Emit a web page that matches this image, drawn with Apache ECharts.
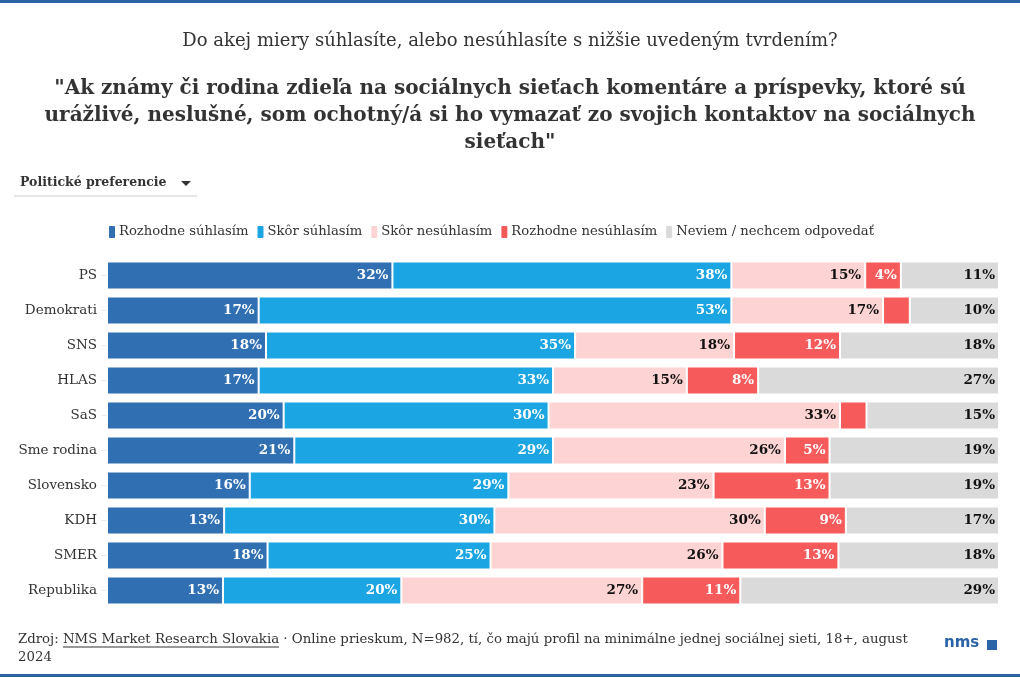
<!DOCTYPE html>
<html><head><meta charset="utf-8">
<script src="https://cdn.jsdelivr.net/npm/echarts@6/dist/echarts.min.js"></script>
<style>html,body{margin:0;padding:0;background:#fff}#c{width:1020px;height:677px}</style>
</head><body><div id="c"></div>
<script>
var categories = ['PS','Demokrati','SNS','HLAS','SaS','Sme rodina','Slovensko','KDH','SMER','Republika'];
var seriesNames = ['Rozhodne súhlasím','Skôr súhlasím','Skôr nesúhlasím','Rozhodne nesúhlasím','Neviem / nechcem odpovedať'];
var rozhodneSuhlasim   = [32,17,18,17,20,21,16,13,18,13];
var skorSuhlasim       = [38,53,35,33,30,29,29,30,25,20];
var skorNesuhlasim     = [15,17,18,15,33,26,23,30,26,27];
var rozhodneNesuhlasim = [4,3,12,8,3,5,13,9,13,11];
var neviem             = [11,10,18,27,15,19,19,17,18,29];

var allSeries = [rozhodneSuhlasim, skorSuhlasim, skorNesuhlasim, rozhodneNesuhlasim, neviem];
var colors = ['#2f6fb2','#1ba5e2','#fdd3d3','#f65a5a','#dadada'];
var labelColors = ['#fff','#fff','#111','#fff','#111'];
var FONT = 'DejaVu Serif';

var totals = categories.map(function(_, i){
  return allSeries.reduce(function(s, arr){ return s + arr[i]; }, 0);
});

var series = allSeries.map(function(arr, si){
  return {
    name: seriesNames[si], type: 'bar', stack: 'all', barCategoryGap: '20%',
    itemStyle: { color: colors[si], borderColor: '#fff', borderWidth: 1 },
    label: {
      show: true, position: 'insideRight', fontFamily: FONT, fontWeight: 'bold',
      fontSize: 13.5, color: labelColors[si], distance: 4,
      formatter: function(p){ return p.data.raw >= 4 ? p.data.raw + '%' : ''; }
    },
    emphasis: { disabled: true },
    data: arr.map(function(v, i){ return { value: v / totals[i] * 100, raw: v }; })
  };
});

var cvs = document.createElement('canvas').getContext('2d');
cvs.font = '13.3px ' + FONT;
var wZ = cvs.measureText('Zdroj: ').width;
var wN = cvs.measureText('NMS Market Research Slovakia').width;

var chart = echarts.init(document.getElementById('c'));
chart.setOption({
  animation: false,
  textStyle: { fontFamily: FONT },
  legend: {
    data: seriesNames, left: 102, top: 219, icon: 'roundRect', itemWidth: 8, itemHeight: 14, itemGap: 7,
    textStyle: { fontFamily: FONT, fontSize: 13.2, color: '#333', padding: [0,0,0,-2] },
    selectedMode: false
  },
  grid: { left: 107, right: 21, top: 258, height: 350, containLabel: false },
  xAxis: { type: 'value', min: 0, max: 100, show: false },
  yAxis: {
    type: 'category', data: categories, inverse: true,
    axisLine: { show: false },
    axisTick: { show: true, length: 6, lineStyle: { color: '#eee' }, alignWithLabel: true },
    axisLabel: { fontFamily: FONT, fontSize: 13.5, color: '#333', margin: 10 }
  },
  series: series,
  graphic: [
    { type: 'rect', shape: { x: 0, y: 0, width: 1020, height: 3 }, style: { fill: '#2a63a6' } },
    { type: 'rect', shape: { x: 0, y: 674, width: 1020, height: 3 }, style: { fill: '#2a63a6' } },
    { type: 'text', x: 510, y: 32, style: { text: 'Do akej miery súhlasíte, alebo nesúhlasíte s nižšie uvedeným tvrdením?', font: '18px ' + FONT, fill: '#333', align: 'center' } },
    { type: 'text', x: 510, y: 75, style: { text: '"Ak známy či rodina zdieľa na sociálnych sieťach komentáre a príspevky, ktoré sú\nurážlivé, neslušné, som ochotný/á si ho vymazať zo svojich kontaktov na sociálnych\nsieťach"', font: 'bold 20px ' + FONT, fill: '#333', align: 'center', lineHeight: 27 } },
    { type: 'text', left: 20, top: 176, style: { text: 'Politické preferencie', font: 'bold 12.5px ' + FONT, fill: '#333' } },
    { type: 'polygon', shape: { points: [[181,181],[191,181],[186,186]] }, style: { fill: '#333' } },
    { type: 'line', shape: { x1: 14, y1: 196, x2: 197, y2: 196 }, style: { stroke: '#ccc', lineWidth: 1 } },
    { type: 'text', left: 18, top: 631, style: { text: 'Zdroj: NMS Market Research Slovakia · Online prieskum, N=982, tí, čo majú profil na minimálne jednej sociálnej sieti, 18+, august\n2024', font: '13.3px ' + FONT, fill: '#333', lineHeight: 18 } },
    { type: 'line', shape: { x1: 18 + wZ, y1: 647, x2: 18 + wZ + wN, y2: 647 }, style: { stroke: '#333', lineWidth: 1 } },
    { type: 'text', left: 944, top: 636, style: { text: 'nms', font: 'bold 15px "DejaVu Sans"', fill: '#2a63a6' } },
    { type: 'rect', shape: { x: 987, y: 640, width: 10, height: 10 }, style: { fill: '#2a63a6' } }
  ]
});
</script></body></html>
